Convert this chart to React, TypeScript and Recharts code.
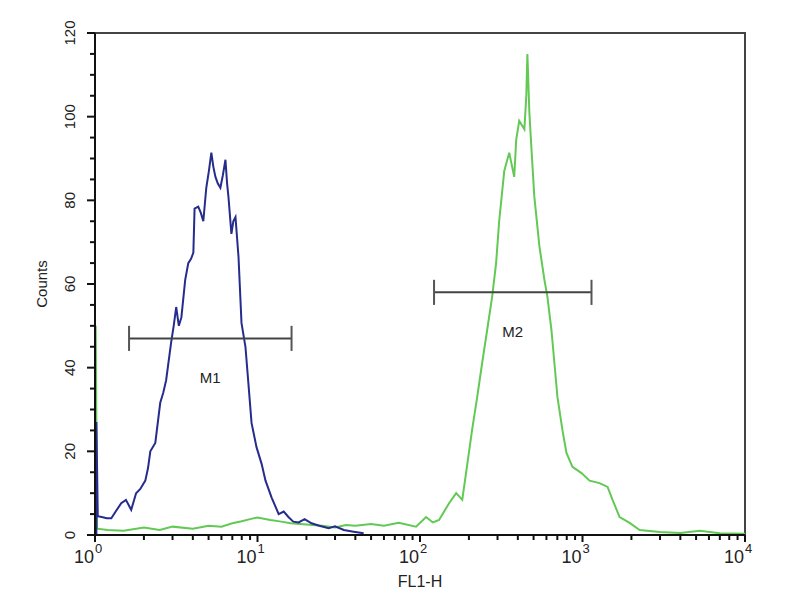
import React from 'react';
import { LineChart, Line, XAxis, YAxis, ReferenceArea, ReferenceLine } from 'recharts';

// FL1-H channel (log scale) and counts
const blueChannel = [
  1.02, 1.02, 1.04, 1.1, 1.18, 1.26, 1.35, 1.45, 1.55, 1.62, 1.67,
  1.79, 1.9, 2.04, 2.12, 2.19, 2.35, 2.52, 2.63, 2.74, 2.94,
  3.05, 3.16, 3.28, 3.4, 3.59, 3.75, 3.9, 4.03, 4.1, 4.32,
  4.48, 4.64, 4.84, 5.02, 5.2, 5.35, 5.51, 5.7, 5.91, 6.12,
  6.35, 6.5, 6.62, 6.91, 7.1, 7.32, 7.64, 7.97, 8.43, 8.8,
  9.19, 9.86, 10.6, 11.2, 12.2, 13.5, 14.5, 15.5, 16.6, 17.9,
  19.5, 21.5, 24, 27.4, 30, 34, 39, 45,
];
const blueCounts = [
  0, 27, 4.5, 4.3, 4, 4, 5.8, 7.6, 8.4, 7, 6,
  10, 11, 13, 16, 20, 22, 31.6, 34, 37, 46,
  50, 54.5, 50, 52, 61, 65, 66, 67.5, 78, 78.5,
  77, 75, 83, 87, 91.4, 88, 85.6, 84, 83, 86,
  89.7, 84, 81, 72, 75, 76, 66.5, 50.7, 45, 36,
  26.8, 21, 17, 13, 9, 5, 5.6, 4.3, 3.2, 3,
  3.8, 2.8, 2.2, 1.6, 2.1, 1.2, 0.8, 0.4,
];

const greenChannel = [
  1.01, 1.01, 1.03, 1.2, 1.5, 2, 2.5, 3, 4, 5, 6,
  7, 8, 9, 10, 12, 14, 16, 20, 25, 30,
  35, 40, 50, 60, 74, 94.5, 109, 120, 131, 151,
  167, 182, 192, 209, 225, 241, 259, 278, 294, 307,
  330, 354, 380, 391, 408, 439, 451, 458, 471, 484,
  505, 543, 583, 608, 644, 672, 701, 753, 797, 867,
  986, 1105, 1273, 1427, 1531, 1692, 1950, 2249, 2988, 4000,
  5275, 7000, 10000,
];
const greenCounts = [
  0, 50, 1.5, 1.2, 1, 1.8, 1.2, 2, 1.5, 2.2, 2,
  2.8, 3.3, 3.8, 4.2, 3.6, 3.2, 2.8, 2.5, 2.2, 1.8,
  2.4, 2.2, 2.6, 2.2, 2.9, 2, 4.3, 3, 3.6, 7.6,
  10, 8.4, 14.8, 25, 33, 41, 49, 57, 65, 75,
  87, 91.4, 85.6, 94.5, 99, 97, 105, 115, 101, 93,
  81, 69, 61, 57, 49, 41, 33, 25, 19.6, 16.3,
  14.8, 13, 12.4, 11.5, 8.4, 4.3, 2.9, 1.2, 0.7, 0.5,
  1, 0.4, 0.3,
];

// gates
const markerNames = ['M1', 'M2'];
const markerStart = [1.62, 122];
const markerEnd = [16.2, 1136];
const markerLevel = [47, 58];

const xTicks = [
  1, 2, 3, 4, 5, 6, 7, 8, 9,
  10, 20, 30, 40, 50, 60, 70, 80, 90,
  100, 200, 300, 400, 500, 600, 700, 800, 900,
  1000, 2000, 3000, 4000, 5000, 6000, 7000, 8000, 9000, 10000,
];
const yTicks = [0, 5, 10, 15, 20, 25, 30, 35, 40, 45, 50, 55, 60, 65, 70, 75, 80, 85, 90, 95, 100, 105, 110, 115, 120];

const blueData = blueChannel.map((x, i) => ({ x, y: blueCounts[i] }));
const greenData = greenChannel.map((x, i) => ({ x, y: greenCounts[i] }));

const XTick = (props: any) => {
  const { x, y, payload } = props;
  const exp = Math.log10(payload.value);
  const major = Math.abs(exp - Math.round(exp)) < 1e-6;
  return (
    <g>
      <line x1={x} x2={x} y1={y} y2={y + (major ? 7 : 5)} stroke="#111" strokeWidth={2} />
      {major && (
        <text x={x - 1} y={y + 28} textAnchor="end" fontSize={18} fill="#222">10</text>
      )}
      {major && (
        <text x={x} y={y + 18} textAnchor="start" fontSize={13} fill="#222">{Math.round(exp)}</text>
      )}
    </g>
  );
};

const YTick = (props: any) => {
  const { x, y, payload } = props;
  const v = payload.value;
  const major = v % 20 === 0;
  return (
    <g>
      <line x1={x} x2={x - (major ? 8 : 5)} y1={y} y2={y} stroke="#111" strokeWidth={2} />
      {major && (
        <text transform={`translate(${x - 20},${y}) rotate(-90)`} textAnchor="middle" fontSize={15} fill="#222">
          {v}
        </text>
      )}
    </g>
  );
};

const CAP = 3;

export default function App() {
  return (
    <div style={{ position: 'absolute', left: 0, top: 0, width: 800, height: 600, background: '#fff', fontFamily: '"Liberation Sans", Arial, sans-serif' }}>
      <LineChart width={800} height={600} margin={{ top: 33, right: 55, bottom: 0, left: 0 }}>
        <XAxis
          dataKey="x"
          type="number"
          scale="log"
          domain={[1, 10000]}
          allowDataOverflow
          ticks={xTicks}
          interval={0}
          tick={<XTick />}
          tickLine={false}
          tickSize={0}
          tickMargin={0}
          height={65}
          axisLine={{ stroke: '#111', strokeWidth: 2 }}
          label={{ value: 'FL1-H', position: 'insideBottom', offset: 13, fontSize: 16, fill: '#222' }}
        />
        <YAxis
          type="number"
          domain={[0, 120]}
          ticks={yTicks}
          interval={0}
          tick={<YTick />}
          tickLine={false}
          tickSize={0}
          tickMargin={0}
          width={95}
          axisLine={{ stroke: '#111', strokeWidth: 2 }}
          label={{ value: 'Counts', angle: -90, position: 'insideLeft', offset: 42, fontSize: 15, fill: '#222', style: { textAnchor: 'middle' } }}
        />
        <ReferenceArea x1={1} x2={10000} y1={0} y2={120} fill="none" stroke="#444" strokeWidth={2} />
        <Line data={greenData} dataKey="y" type="linear" stroke="#62c954" strokeWidth={2} dot={false} isAnimationActive={false} />
        <Line data={blueData} dataKey="y" type="linear" stroke="#262c8c" strokeWidth={2} dot={false} isAnimationActive={false} />
        {markerNames.map((name, i) => (
          <ReferenceLine
            key={name}
            segment={[{ x: markerStart[i], y: markerLevel[i] }, { x: markerEnd[i], y: markerLevel[i] }]}
            stroke="#444"
            strokeWidth={2}
            label={{ value: name, position: 'bottom', offset: 34, fontSize: 15, fill: '#222' }}
          />
        ))}
        {markerNames.map((name, i) => (
          <ReferenceLine
            key={name + 'a'}
            segment={[{ x: markerStart[i], y: markerLevel[i] - CAP }, { x: markerStart[i], y: markerLevel[i] + CAP }]}
            stroke="#555"
            strokeWidth={2}
          />
        ))}
        {markerNames.map((name, i) => (
          <ReferenceLine
            key={name + 'b'}
            segment={[{ x: markerEnd[i], y: markerLevel[i] - CAP }, { x: markerEnd[i], y: markerLevel[i] + CAP }]}
            stroke="#555"
            strokeWidth={2}
          />
        ))}
      </LineChart>
    </div>
  );
}
